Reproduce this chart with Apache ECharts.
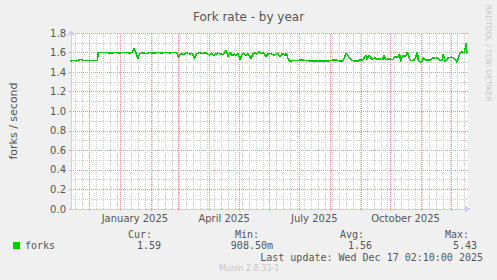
<!DOCTYPE html>
<html>
<head>
<meta charset="utf-8">
<script src="https://cdn.jsdelivr.net/npm/echarts@6/dist/echarts.min.js"></script>
<style>
html,body{margin:0;padding:0;background:#f0f0f0;}
#c{width:497px;height:280px;}
#c svg path{shape-rendering:crispEdges;}
</style>
</head>
<body>
<div id="c"></div>
<script>
// ---- data ----
const dates = [
'2024-11-12','2024-11-15','2024-11-18','2024-11-21','2024-11-23','2024-11-25','2024-11-28',
'2024-12-01','2024-12-04','2024-12-07','2024-12-09','2024-12-10','2024-12-13','2024-12-17',
'2024-12-22','2024-12-27','2025-01-01','2025-01-06','2025-01-11','2025-01-13','2025-01-15',
'2025-01-17','2025-01-19','2025-01-21','2025-01-24','2025-01-28','2025-01-31','2025-02-04',
'2025-02-08','2025-02-12','2025-02-16','2025-02-20','2025-02-24','2025-02-27','2025-03-01',
'2025-03-03','2025-03-06','2025-03-09','2025-03-12','2025-03-15','2025-03-17','2025-03-19',
'2025-03-22','2025-03-25','2025-03-28','2025-04-01','2025-04-03','2025-04-06','2025-04-09',
'2025-04-12','2025-04-15','2025-04-18','2025-04-20','2025-04-22','2025-04-24','2025-04-26',
'2025-04-28','2025-04-30','2025-05-02','2025-05-04','2025-05-06','2025-05-08','2025-05-10',
'2025-05-13','2025-05-15','2025-05-17','2025-05-19','2025-05-21','2025-05-23','2025-05-26',
'2025-05-28','2025-05-30','2025-06-02','2025-06-05','2025-06-07','2025-06-09','2025-06-11',
'2025-06-13','2025-06-14','2025-06-16','2025-06-18','2025-06-19','2025-06-21','2025-06-25',
'2025-06-30','2025-07-03','2025-07-07','2025-07-12','2025-07-18','2025-07-25','2025-07-30',
'2025-08-02','2025-08-04','2025-08-07','2025-08-10','2025-08-14','2025-08-17','2025-08-20',
'2025-08-22','2025-08-25','2025-08-30','2025-09-01','2025-09-02','2025-09-06','2025-09-07',
'2025-09-09','2025-09-11','2025-09-12','2025-09-15','2025-09-17','2025-09-20','2025-09-23',
'2025-09-24','2025-09-26','2025-09-29','2025-10-03','2025-10-05','2025-10-08','2025-10-10',
'2025-10-11','2025-10-13','2025-10-16','2025-10-18','2025-10-19','2025-10-21','2025-10-25',
'2025-10-28','2025-10-29','2025-10-31','2025-11-02','2025-11-03','2025-11-05','2025-11-08',
'2025-11-10','2025-11-12','2025-11-15','2025-11-17','2025-11-20','2025-11-22','2025-11-23',
'2025-11-25','2025-11-28','2025-12-02','2025-12-05','2025-12-07','2025-12-10','2025-12-12',
'2025-12-14','2025-12-15','2025-12-16','2025-12-17'
];
const forks = [
1.515,1.518,1.516,1.525,1.532,1.520,1.518,
1.517,1.519,1.517,1.518,1.600,1.598,1.602,
1.595,1.600,1.597,1.601,1.595,1.600,1.640,
1.600,1.540,1.590,1.596,1.590,1.600,1.595,
1.600,1.596,1.601,1.597,1.600,1.600,1.550,
1.590,1.580,1.600,1.585,1.592,1.540,1.585,
1.600,1.590,1.600,1.575,1.592,1.570,1.595,
1.588,1.580,1.625,1.560,1.600,1.565,1.585,
1.570,1.590,1.530,1.580,1.592,1.575,1.590,
1.540,1.585,1.600,1.585,1.615,1.590,1.595,
1.557,1.585,1.590,1.575,1.580,1.592,1.560,
1.580,1.592,1.570,1.592,1.550,1.515,1.517,
1.520,1.525,1.518,1.515,1.516,1.515,1.515,
1.520,1.525,1.524,1.515,1.516,1.595,1.550,
1.525,1.515,1.516,1.530,1.515,1.570,1.530,
1.570,1.550,1.525,1.550,1.530,1.535,1.528,
1.570,1.530,1.535,1.528,1.556,1.550,1.587,
1.510,1.567,1.560,1.608,1.564,1.520,1.522,
1.608,1.510,1.505,1.508,1.553,1.520,1.525,
1.518,1.546,1.540,1.548,1.520,1.522,1.587,
1.510,1.546,1.553,1.530,1.502,1.598,1.605,
1.600,1.632,1.700,1.590
];
const monthStarts = ['2024-12-01','2025-01-01','2025-02-01','2025-03-01','2025-04-01','2025-05-01',
  '2025-06-01','2025-07-01','2025-08-01','2025-09-01','2025-10-01','2025-11-01','2025-12-01'];
const quarterLabelDates = ['2025-01-16','2025-04-16','2025-07-16','2025-10-16'];
const quarterLabels = ['January 2025','April 2025','July 2025','October 2025'];
const statLabels = ['Cur:','Min:','Avg:','Max:'];
const statValues = ['1.59','908.50m','1.56','5.43'];
const lastUpdate = 'Last update: Wed Dec 17 02:10:00 2025';

const ts = d => new Date(d + 'T00:00:00').getTime();
const RED = '#f09090', GRAY = '#d0d0d0';
const mTimes = monthStarts.map(ts);
const mSet = new Set(mTimes);
// ---- weekly minor grid (Sundays), skipping month starts ----
const weekLines = [];
for (let t = ts('2024-11-17'); t < ts('2025-12-17'); t += 7*86400000) {
  if (!mSet.has(t)) weekLines.push({xAxis: t});
}
const monthLines = mTimes.map(t => ({xAxis: t}));
const xMin = new Date('2024-11-12T12:00:00').getTime();
const xMax = xMin + 400*86400000;
const qTimes = quarterLabelDates.map(ts);

const chart = echarts.init(document.getElementById('c'), null, {renderer: 'svg'});
const sans = 'DejaVu Sans';
const mono = 'DejaVu Sans Mono';
const statLabelX = [152, 259, 364, 469];
const statValueX = [161, 273, 372, 477];
const graphics = [];
statLabels.forEach((s, i) => graphics.push({type:'text', x: statLabelX[i], y: 234, style:{text:s, fill:'#555', font:'10px "'+mono+'"', textAlign:'right', textVerticalAlign:'middle'}}));
statValues.forEach((s, i) => graphics.push({type:'text', x: statValueX[i], y: 245.5, style:{text:s, fill:'#555', font:'10px "'+mono+'"', textAlign:'right', textVerticalAlign:'middle'}}));
graphics.push({type:'text', x: 483, y: 257.5, style:{text:lastUpdate, fill:'#555', font:'10px "'+mono+'"', textAlign:'right', textVerticalAlign:'middle'}});
graphics.push({type:'text', x: 219, y: 268.5, style:{text:'Munin 2.0.33-1', fill:'#c4c4c4', font:'8px "'+sans+'"', textAlign:'left', textVerticalAlign:'middle'}});
graphics.push({type:'text', x: 488, y: 5, rotation: -Math.PI/2, style:{text:'RRDTOOL / TOBI OETIKER', fill:'#c8c8c8', font:'7.5px "'+sans+'"', textAlign:'left', textVerticalAlign:'middle'}});

chart.setOption({
  backgroundColor: '#f0f0f0',
  animation: false,
  title: {text: 'Fork rate - by year', left: 'center', top: 6,
    textStyle: {fontFamily: sans, fontSize: 12, fontWeight: 'normal', color: '#555'}},
  legend: {data: ['forks'], left: 13, top: 240, padding: 0, itemWidth: 7, itemHeight: 7, icon: 'rect',
    textStyle: {fontFamily: mono, fontSize: 10, color: '#555'}},
  grid: {left: 66, right: 29.5, top: 33, bottom: 71, show: true, backgroundColor: '#ffffff', borderWidth: 0, z: 0},
  xAxis: {
    type: 'value', min: xMin, max: xMax, z: 3,
    axisLine: {show: true, onZero: false, symbol: ['none', 'arrow'], symbolSize: [6, 6], symbolOffset: [0, 3],
      lineStyle: {color: '#ccccf4', width: 1}},
    axisTick: {show: true, customValues: mTimes, length: 2, lineStyle: {color: '#e8b0b0'}},
    axisLabel: {customValues: qTimes, margin: 4, fontFamily: sans, fontSize: 10, color: '#555',
      formatter: function (v) { const i = qTimes.indexOf(v); return i >= 0 ? quarterLabels[i] : ''; }},
    splitLine: {show: false}
  },
  yAxis: {
    type: 'value', min: 0, max: 1.8, interval: 0.2, z: 3,
    name: 'forks / second', nameLocation: 'middle', nameGap: 52, nameRotate: 90,
    nameTextStyle: {fontFamily: sans, fontSize: 11, color: '#555'},
    axisLine: {show: true, onZero: false, symbol: ['none', 'arrow'], symbolSize: [6, 6], symbolOffset: [0, 3],
      lineStyle: {color: '#ccccf4', width: 1}},
    axisTick: {show: true, length: 2, lineStyle: {color: '#e0a0a0'}},
    axisLabel: {margin: 5, fontFamily: sans, fontSize: 10, color: '#555', formatter: v => v.toFixed(1)},
    splitLine: {show: true, lineStyle: {color: RED, type: 'dotted', width: 1}},
    minorTick: {show: false, splitNumber: 2},
    minorSplitLine: {show: true, lineStyle: {color: GRAY, type: 'dotted', width: 1}}
  },
  series: [
    {name: 'weeks', type: 'line', data: [], z: 4, silent: true, legendHoverLink: false,
      markLine: {silent: true, symbol: 'none', label: {show: false}, animation: false,
        lineStyle: {color: GRAY, type: 'dotted', width: 1}, data: weekLines}},
    {name: 'months', type: 'line', data: [], z: 4, silent: true, legendHoverLink: false,
      markLine: {silent: true, symbol: 'none', label: {show: false}, animation: false,
        lineStyle: {color: RED, type: 'dotted', width: 1}, data: monthLines}},
    {name: 'forks', type: 'line', z: 5, showSymbol: false, symbol: 'none',
      lineStyle: {color: '#00cc00', width: 1.5}, itemStyle: {color: '#00cc00'},
      data: dates.map((d, i) => [ts(d), forks[i]])}
  ],
  graphic: graphics
});
</script>
</body>
</html>
